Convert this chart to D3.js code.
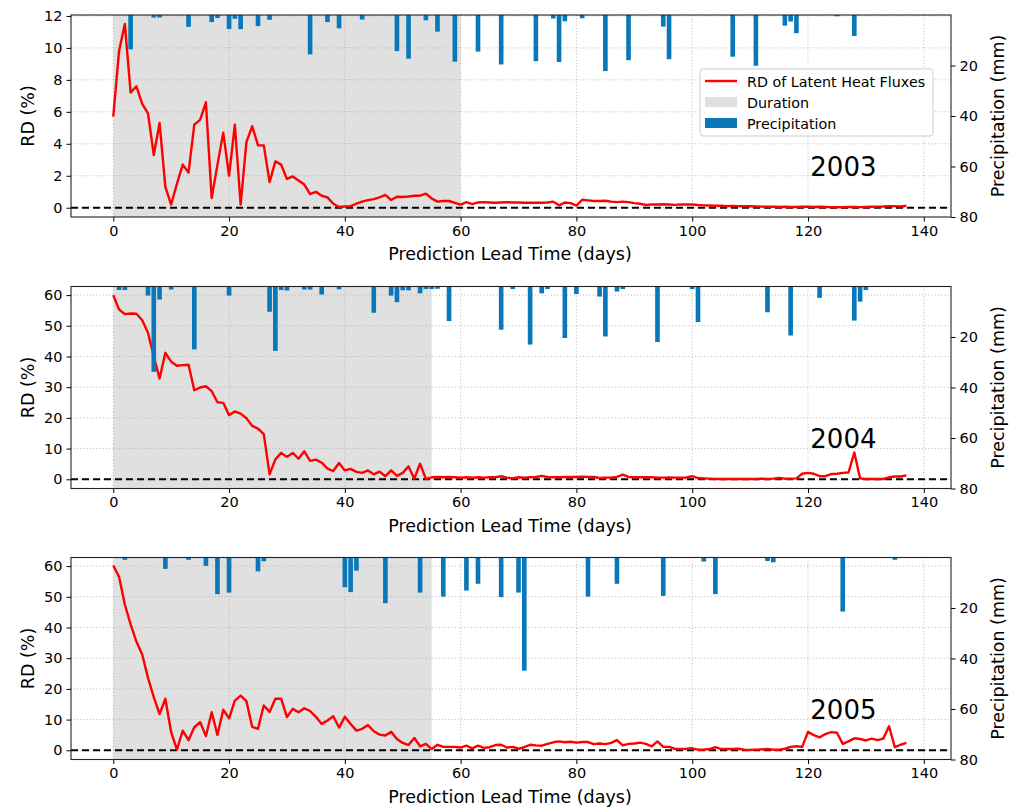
<!DOCTYPE html>
<html>
<head>
<meta charset="utf-8">
<script src="https://cdn.jsdelivr.net/npm/d3@7"></script>
<style>
  body { margin: 0; background: #fff; }
  svg text { font-family: "DejaVu Sans", sans-serif; fill: #000; }
</style>
</head>
<body>
<svg id="chart" width="1019" height="809"></svg>
<script>
// relative difference of latent heat fluxes per lead day (0..137)
var rd2003 = [5.7,9.8,11.5,7.2,7.6,6.5,5.9,3.3,5.3,1.3,
  0.2,1.5,2.7,2.2,5.2,5.5,6.6,0.6,2.7,4.7,
  2.0,5.2,0.2,4.1,5.1,3.9,3.9,1.6,2.9,2.7,
  1.8,1.96,1.7,1.45,0.85,1.0,0.75,0.65,0.25,0.05,
  0.08,0.1,0.25,0.38,0.48,0.54,0.65,0.8,0.48,0.69,
  0.67,0.7,0.75,0.75,0.88,0.58,0.38,0.42,0.42,0.31,
  0.2,0.35,0.23,0.33,0.35,0.33,0.31,0.33,0.35,0.33,
  0.33,0.31,0.31,0.31,0.31,0.33,0.38,0.15,0.33,0.29,
  0.13,0.5,0.46,0.42,0.42,0.44,0.38,0.35,0.38,0.35,
  0.29,0.25,0.17,0.21,0.2,0.22,0.2,0.18,0.21,0.2,
  0.2,0.17,0.15,0.14,0.12,0.12,0.1,0.11,0.1,0.09,
  0.09,0.08,0.07,0.06,0.06,0.05,0.06,0.05,0.05,0.06,
  0.06,0.05,0.06,0.05,0.04,0.03,0.04,0.05,0.05,0.04,
  0.05,0.06,0.07,0.08,0.1,0.1,0.08,0.12];

var rd2004 = [60.0,55.3,53.8,54.0,53.9,51.8,47.7,40.0,32.8,41.2,
  38.3,37.0,37.2,37.3,29.0,29.9,30.3,28.7,25.1,24.9,
  20.9,22.1,21.4,19.9,17.4,16.5,14.7,1.6,6.5,8.6,
  7.3,8.6,6.7,9.1,6.0,6.4,5.4,3.5,2.7,5.3,
  2.9,3.4,2.4,2.1,2.9,1.6,2.5,1.0,2.9,1.1,
  2.1,4.2,0.2,5.1,0.1,0.65,0.76,0.65,0.76,0.65,
  0.55,0.65,0.55,0.65,0.55,0.65,0.65,1.0,0.55,0.3,
  0.65,0.55,0.65,0.76,1.1,0.76,0.65,0.65,0.76,0.76,
  0.76,0.87,0.76,0.76,0.43,0.55,0.55,0.76,1.5,0.76,
  0.65,0.65,0.65,0.65,0.55,0.55,0.6,0.55,0.5,0.6,
  1.0,0.4,0.3,0.2,0.1,0.1,0.1,0.1,0.1,0.1,
  0.1,0.1,0.2,0.1,0.2,0.4,0.2,0.2,0.3,1.8,
  2.1,1.8,1.0,1.0,1.7,1.8,2.1,2.2,8.7,0.3,
  0.1,0.1,0.1,0.1,0.65,0.9,0.9,1.3];

var rd2005 = [60.2,56.5,47.5,41.0,35.4,31.2,23.6,17.3,11.8,16.8,
  5.9,0.2,6.4,3.3,7.5,9.2,4.6,12.4,5.0,13.2,
  10.4,16.2,17.8,16.0,7.6,7.0,14.6,12.5,16.8,16.8,
  10.8,13.5,12.4,13.7,12.8,10.9,8.6,9.7,11.1,7.4,
  10.9,8.6,6.4,7.0,8.2,6.2,5.1,4.8,6.0,3.7,
  2.4,1.7,4.0,1.3,2.1,0.4,1.8,1.1,1.1,1.1,
  0.9,1.5,0.65,1.5,0.8,1.0,1.7,1.8,0.9,1.1,
  0.5,1.0,1.8,1.6,1.5,2.1,2.6,2.9,2.6,2.8,
  2.5,2.7,2.7,2.0,2.2,2.0,2.4,3.3,1.6,2.1,
  2.2,2.5,2.1,1.3,2.9,1.1,1.1,0.5,0.4,0.5,
  0.65,0.2,0.2,0.4,1.0,0.4,0.4,0.4,0.5,0.2,
  0.1,0.2,0.3,0.4,0.2,0.2,0.5,1.1,1.3,1.1,
  6.0,4.9,4.2,5.3,5.9,5.7,2.1,2.9,3.9,3.7,
  3.2,3.8,3.3,3.8,7.8,1.0,1.8,2.4];

// daily precipitation (mm), only rainy days
var rainDays2003 = [3,7,8,13,17,18,20,21,22,25,27,34,37,39,43,49,51,54,56,59,63,67,73,76,77,78,81,85,89,95,96,107,111,116,117,118,125,128];
var rainMm2003   = [13.6,1.0,1.0,4.7,2.8,1.2,5.6,1.5,5.6,4.4,1.9,15.6,2.8,5.3,1.8,14.3,17.3,2.1,6.6,18.5,14.5,19.6,18.3,1.4,18.6,2.5,1.3,22.2,17.9,4.6,17.5,16.5,20.1,4.2,2.6,7.2,0.5,8.3];

var rainDays2004 = [1,2,6,7,8,10,14,20,27,28,29,30,33,34,36,39,45,48,49,50,51,53,54,55,56,58,67,69,72,74,75,78,80,84,85,87,88,94,100,101,113,117,122,128,129,130];
var rainMm2004   = [1.4,1.4,3.6,33.8,5.2,1.2,24.9,3.6,10.0,25.5,1.4,1.6,1.2,1.2,3.2,1.1,10.4,3.6,6.2,1.5,1.5,2.7,1.0,1.0,0.9,13.7,17.1,1.0,23.0,2.7,1.0,20.4,3.0,4.0,19.8,2.0,1.0,22.0,1.0,14.1,10.2,19.4,4.5,13.5,6.0,1.4];

var rainDays2005 = [2,9,13,16,18,20,25,26,40,41,42,47,53,57,61,63,67,70,71,82,87,95,102,104,113,114,126,135];
var rainMm2005   = [0.9,4.5,0.9,3.3,14.5,13.9,5.5,1.5,11.8,13.7,5.2,18.1,13.9,15.5,13.1,10.4,15.7,13.9,44.8,15.5,10.4,15.2,1.6,14.5,1.4,1.9,21.4,0.9];

var years = ["2003","2004","2005"];
var durationEnd = [60, 55, 55];
var rdTicks = [[0,2,4,6,8,10,12],[0,10,20,30,40,50,60],[0,10,20,30,40,50,60]];
var rdDomain = [[-0.58,12.06],[-3.0,62.8],[-3.0,62.8]];
var xTicks = [0,20,40,60,80,100,120,140];
var rainTicks = [20,40,60,80];

var rdSeries = [rd2003, rd2004, rd2005];
var rainDays = [rainDays2003, rainDays2004, rainDays2005];
var rainMm = [rainMm2003, rainMm2004, rainMm2005];

var svg = d3.select("#chart");
var left = 71, right = 951;
var tops = [15, 286.5, 557.5];
var panelH = 202;

var xScale = d3.scaleLinear().domain([-7.3, 144.7]).range([left, right]);

var drawPanel = function(i)
{
  var top = tops[i], bottom = top + panelH;
  var g = svg.append("g");

  var yScale = d3.scaleLinear().domain(rdDomain[i]).range([bottom, top]);
  var pScale = d3.scaleLinear().domain([0, 80]).range([top, bottom]);

  g.append("defs").append("clipPath").attr("id", "clip" + i)
   .append("rect").attr("x", left).attr("y", top)
   .attr("width", right - left).attr("height", panelH);

  // duration shading
  g.append("rect")
   .attr("x", xScale(0)).attr("y", top)
   .attr("width", xScale(durationEnd[i]) - xScale(0))
   .attr("height", panelH)
   .attr("fill", "#e0e0e0");

  // dotted grid
  g.selectAll(".gx").data(xTicks).enter().append("line")
   .attr("x1", function(d){return xScale(d);}).attr("x2", function(d){return xScale(d);})
   .attr("y1", top).attr("y2", bottom)
   .attr("stroke", "#b0b0b0").attr("stroke-width", 0.9).attr("stroke-dasharray", "1,2.2");
  g.selectAll(".gy").data(rdTicks[i]).enter().append("line")
   .attr("x1", left).attr("x2", right)
   .attr("y1", function(d){return yScale(d);}).attr("y2", function(d){return yScale(d);})
   .attr("stroke", "#b0b0b0").attr("stroke-width", 0.9).attr("stroke-dasharray", "1,2.2");

  // zero reference
  g.append("line")
   .attr("x1", left).attr("x2", right)
   .attr("y1", yScale(0)).attr("y2", yScale(0))
   .attr("stroke", "#000").attr("stroke-width", 2).attr("stroke-dasharray", "7,4");

  // RD line
  var line = d3.line()
               .x(function(d,k){return xScale(k);})
               .y(function(d){return yScale(d);});
  g.append("path")
   .datum(rdSeries[i])
   .attr("d", line)
   .attr("fill", "none")
   .attr("stroke", "#ff0000")
   .attr("stroke-width", 2.4)
   .attr("stroke-linejoin", "round")
   .attr("clip-path", "url(#clip" + i + ")");

  // precipitation bars hanging from the top
  var bw = xScale(0.8) - xScale(0);
  g.selectAll(".bar").data(rainDays[i]).enter().append("rect")
   .attr("x", function(d){return xScale(d) - bw/2;})
   .attr("y", pScale(0))
   .attr("width", bw)
   .attr("height", function(d,k){return pScale(rainMm[i][k]) - pScale(0);})
   .attr("fill", "#0a78b8");

  // axes
  var xAxis = g.append("g").attr("transform", "translate(0," + bottom + ")")
               .call(d3.axisBottom(xScale).tickValues(xTicks).tickSize(4.5).tickPadding(4));
  var yAxis = g.append("g").attr("transform", "translate(" + left + ",0)")
               .call(d3.axisLeft(yScale).tickValues(rdTicks[i]).tickSize(4.5).tickPadding(4));
  var pAxis = g.append("g").attr("transform", "translate(" + right + ",0)")
               .call(d3.axisRight(pScale).tickValues(rainTicks).tickSize(4.5).tickPadding(4));
  [xAxis, yAxis, pAxis].forEach(function(a){
    a.select(".domain").remove();
    a.selectAll("line").attr("stroke", "#000").attr("stroke-width", 1);
    a.selectAll("text").style("font-size", "14.5px").style("font-family", "DejaVu Sans, sans-serif");
  });

  g.append("rect")
   .attr("x", left).attr("y", top)
   .attr("width", right - left).attr("height", panelH)
   .attr("fill", "none").attr("stroke", "#222").attr("stroke-width", 1.1);

  // labels
  g.append("text")
   .attr("x", (left + right) / 2 - 1).attr("y", bottom + 43)
   .attr("text-anchor", "middle").style("font-size", "17.5px")
   .text("Prediction Lead Time (days)");
  g.append("text")
   .attr("transform", "translate(34," + (top + panelH/2) + ") rotate(-90)")
   .attr("text-anchor", "middle").style("font-size", "17.5px")
   .text("RD (%)");
  g.append("text")
   .attr("transform", "translate(1004," + (top + panelH/2) + ") rotate(-90)")
   .attr("text-anchor", "middle").style("font-size", "17.5px")
   .text("Precipitation (mm)");

  g.append("text")
   .attr("x", xScale(120.4)).attr("y", top + 161)
   .style("font-size", "26px")
   .text(years[i]);
}

for (var i = 0; i < 3; i++) { drawPanel(i); }

// legend in the first panel
var lg = svg.append("g").attr("transform", "translate(700,69)");
lg.append("rect").attr("width", 233).attr("height", 67).attr("rx", 3)
  .attr("fill", "#fff").attr("fill-opacity", 0.85).attr("stroke", "#ccc");
lg.append("line").attr("x1", 5).attr("x2", 37).attr("y1", 12).attr("y2", 12)
  .attr("stroke", "#ff0000").attr("stroke-width", 2.4);
lg.append("rect").attr("x", 5).attr("y", 28).attr("width", 32).attr("height", 10).attr("fill", "#e0e0e0");
lg.append("rect").attr("x", 5).attr("y", 49).attr("width", 32).attr("height", 10).attr("fill", "#0a78b8");
var legendNames = ["RD of Latent Heat Fluxes", "Duration", "Precipitation"];
lg.selectAll(".lt").data(legendNames).enter().append("text")
  .attr("x", 47).attr("y", function(d,k){return 17.5 + k * 21;})
  .style("font-size", "14.3px")
  .text(function(d){return d;});
</script>
</body>
</html>
